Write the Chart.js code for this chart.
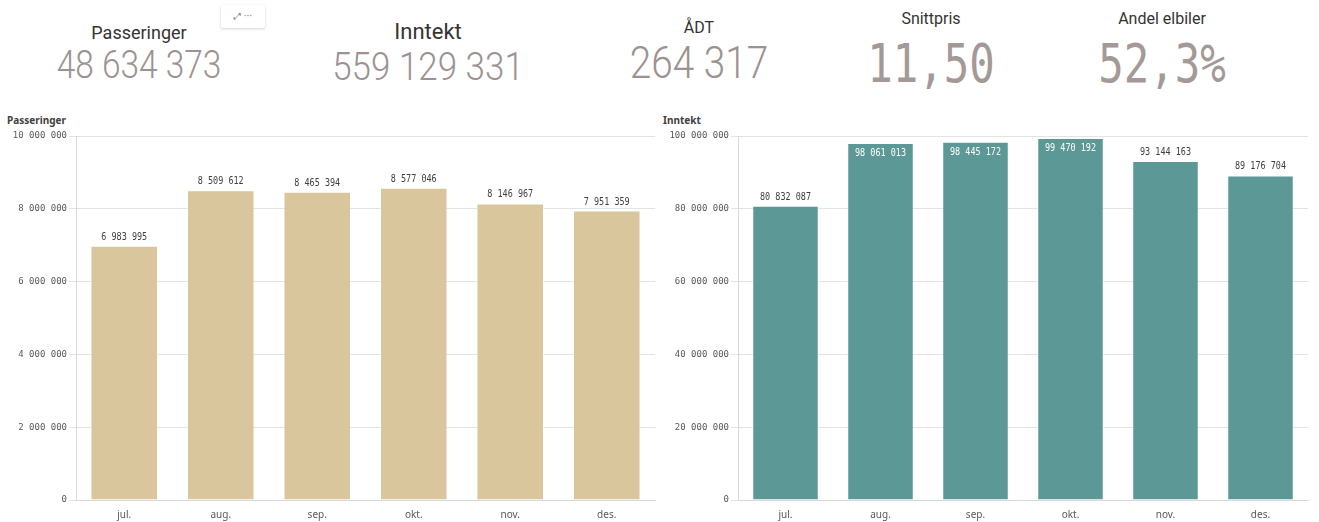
<!DOCTYPE html>
<html>
<head>
<meta charset="utf-8">
<script src="https://cdn.jsdelivr.net/npm/chart.js@4"></script>
<style>
    body { margin: 0; background: #fff; width: 1319px; height: 522px; overflow: hidden; position: relative; font-family: Roboto, sans-serif; }
    .kpi-title, .kpi-value { position: absolute; width: 300px; text-align: center; line-height: 1; white-space: nowrap; }
    .kpi-title { color: #333; }
    .kpi-value { color: #9c9290; font-weight: 300; }
    .mono { font-family: "DejaVu Sans Mono", monospace; font-weight: normal; color: #a39997; }
    .chart-title { position: absolute; font: bold 10px "Noto Sans", sans-serif; color: #404040; }
    .toolbar { position: absolute; left: 221px; top: 5px; width: 44px; height: 23px; background: #fff; box-shadow: 0 1px 3px rgba(0,0,0,0.18); border-radius: 2px; font: 9px "DejaVu Sans", sans-serif; color: #777; line-height: 23px; text-align: center; }
    canvas { position: absolute; }
</style>
</head>
<body>
<div class="toolbar">⤢ ···</div>
<div id="kpis"></div>
<div class="chart-title" style="left:7px; top:113px;">Passeringer</div>
<div class="chart-title" style="left:663px; top:113px;">Inntekt</div>
<canvas id="passChart" width="660" height="394" style="left:0; top:128px;"></canvas>
<canvas id="incomeChart" width="659" height="394" style="left:660px; top:128px;"></canvas>
<script>
const kpiTitles = ['Passeringer', 'Inntekt', 'ÅDT', 'Snittpris', 'Andel elbiler'];
const kpiValues = ['48 634 373', '559 129 331', '264 317', '11,50', '52,3%'];
const months = ['jul.', 'aug.', 'sep.', 'okt.', 'nov.', 'des.'];
const passeringer = [6983995, 8509612, 8465394, 8577046, 8146967, 7951359];
const inntekt = [80832087, 98061013, 98445172, 99470192, 93144163, 89176704];
const passTicks = [0, 2000000, 4000000, 6000000, 8000000, 10000000];
const incomeTicks = [0, 20000000, 40000000, 60000000, 80000000, 100000000];

// KPI row: [centerX, titleTop, titleSize, valueTop, valueSize, scaleX, mono]
const kpiLayout = [
    [139, 24, 18, 46, 38, 0.88, false],
    [428, 21, 22, 48, 38, 0.92, false],
    [699, 20, 16, 41, 44, 0.88, false],
    [931, 11, 16, 37, 53, 0.80, true],
    [1162, 11, 16, 37, 53, 0.80, true]
];
const kpiBox = document.getElementById('kpis');
kpiTitles.forEach((t, i) => {
    const [cx, tt, ts, vt, vs, sx, mono] = kpiLayout[i];
    const title = document.createElement('div');
    title.className = 'kpi-title';
    title.style.cssText = `left:${cx - 150}px; top:${tt}px; font-size:${ts}px;`;
    title.textContent = t;
    kpiBox.appendChild(title);
    const val = document.createElement('div');
    val.className = 'kpi-value' + (mono ? ' mono' : '');
    val.style.cssText = `left:${cx - 150}px; top:${vt}px; font-size:${vs}px; transform:scaleX(${sx});`;
    val.textContent = kpiValues[i];
    kpiBox.appendChild(val);
});

const fmt = v => String(Math.round(v)).replace(/\B(?=(\d{3})+(?!\d))/g, ' ');

// value over each bar, white inside the bar when there is no room above it
const valueLabels = {
    id: 'valueLabels',
    afterDatasetsDraw(chart) {
        const ctx = chart.ctx;
        const meta = chart.getDatasetMeta(0);
        const data = chart.data.datasets[0].data;
        meta.data.forEach((bar, i) => {
            const inside = bar.y - chart.chartArea.top < 16;
            ctx.save();
            ctx.font = '11px "DejaVu Sans Mono", monospace';
            ctx.textAlign = 'center';
            ctx.fillStyle = inside ? '#ffffff' : '#404040';
            ctx.translate(bar.x, inside ? bar.y + 13 : bar.y - 6);
            ctx.scale(0.77, 1);
            ctx.fillText(fmt(data[i]), 0, 0);
            ctx.restore();
        });
    }
};

function makeChart(id, values, ticks, color, axisWidth, padRight) {
    return new Chart(document.getElementById(id).getContext('2d'), {
        type: 'bar',
        data: {
            labels: months,
            datasets: [{
                data: values,
                backgroundColor: color,
                borderColor: 'rgba(255,255,255,0.5)',
                borderWidth: 1,
                categoryPercentage: 1,
                barPercentage: 0.7
            }]
        },
        options: {
            responsive: false,
            animation: false,
            layout: { padding: { top: 8, right: padRight, left: 0, bottom: 0 } },
            plugins: { legend: { display: false }, tooltip: { enabled: false } },
            scales: {
                x: {
                    grid: { display: false, drawTicks: false },
                    border: { color: '#d9d9d9' },
                    ticks: { color: '#595959', font: { family: 'Noto Sans', size: 10 }, padding: 9 },
                    afterFit: s => { s.height = 22; }
                },
                y: {
                    min: ticks[0],
                    max: ticks[ticks.length - 1],
                    afterBuildTicks: s => { s.ticks = ticks.map(v => ({ value: v })); },
                    grid: { color: '#e3e3e3', tickLength: 7 },
                    border: { color: '#d9d9d9' },
                    ticks: {
                        color: '#595959',
                        font: { family: 'DejaVu Sans Mono', size: 9 },
                        padding: 2,
                        callback: v => fmt(v)
                    },
                    afterFit: s => { s.width = axisWidth; }
                }
            }
        },
        plugins: [valueLabels]
    });
}

makeChart('passChart', passeringer, passTicks, '#dac69c', 76, 5);
makeChart('incomeChart', inntekt, incomeTicks, '#5c9896', 78, 11);
</script>
</body>
</html>
